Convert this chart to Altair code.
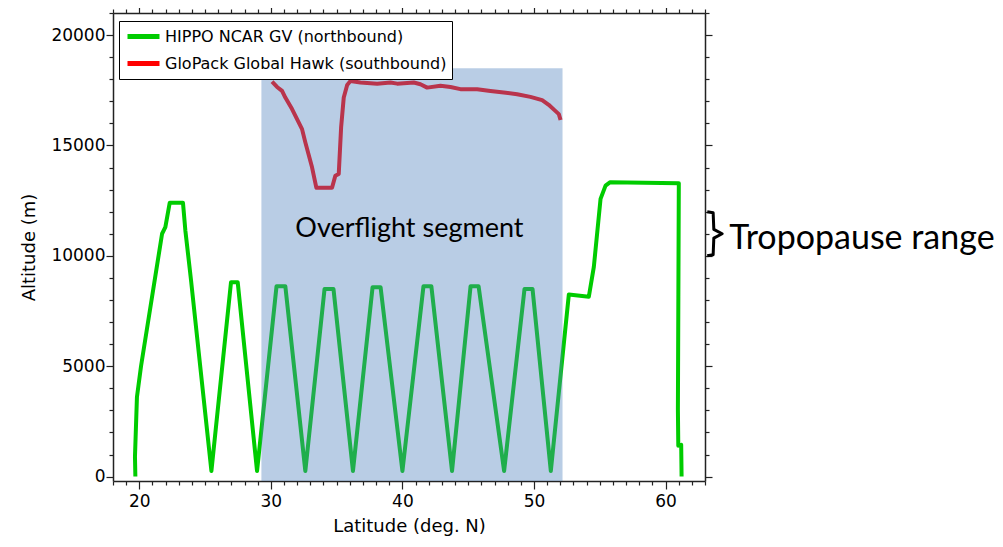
import altair as alt
import pandas as pd

# ---------------- data ----------------
series_names = ["HIPPO NCAR GV (northbound)", "GloPack Global Hawk (southbound)"]
series_colors = ["#00CC00", "#FF0000"]

hippo_lat = [19.70, 19.67, 19.82, 20.13, 21.73, 21.98, 22.31, 23.32, 23.50, 23.93,
             25.48, 26.97, 27.48, 28.95, 30.43, 31.10, 32.62, 34.08, 34.76, 36.24,
             37.73, 38.34, 40.00, 41.60, 42.20, 43.77, 45.18, 45.79, 47.73, 49.28,
             49.89, 51.28, 52.65, 54.17, 54.55, 55.06, 55.44, 55.77, 61.01, 60.94,
             60.97, 61.19, 61.22]
hippo_alt = [0, 900, 3600, 5000, 11000, 11300, 12400, 12400, 11150, 8900,
             250, 8800, 8800, 250, 8620, 8620, 250, 8500, 8500, 250,
             8580, 8580, 250, 8620, 8620, 250, 8620, 8620, 250, 8500,
             8500, 250, 8250, 8150, 9500, 12580, 13180, 13330, 13290, 3030,
             1400, 1440, 0]

glopack_lat = [30.09, 30.47, 30.85, 31.10, 31.61, 32.37, 32.62, 33.13, 33.46, 34.65,
               34.90, 35.16, 35.34, 35.54, 35.80, 36.05, 36.81, 38.08, 39.09, 39.60,
               40.86, 41.37, 41.88, 42.89, 43.65, 44.41, 45.68, 46.69, 47.70, 48.72,
               49.73, 50.62, 51.12, 51.56, 51.89, 52.02]
glopack_alt = [17890, 17650, 17470, 17170, 16650, 15740, 15140, 14010, 13080, 13080,
               13630, 13710, 15820, 17170, 17740, 17920, 17850, 17800, 17850, 17800,
               17850, 17770, 17620, 17700, 17650, 17550, 17550, 17470, 17400, 17320,
               17200, 17050, 16840, 16600, 16420, 16150]

overflight_lat = [29.28, 52.17]
overflight_alt = [-200, 18500]
overflight_label = "Overflight segment"
overflight_label_pos = [40.53, 10860]

bracket_lat = [63.17, 63.62, 63.67, 64.30, 63.67, 63.62, 63.17]
bracket_alt = [12000, 11950, 11200, 11000, 10800, 10050, 10000]
tropo_label = "Tropopause range"
tropo_label_pos = [64.85, 10330]

x_ticks = list(range(18, 64))
y_ticks = list(range(0, 21001, 1000))

# ---------------- tables ----------------
rows = []
for i, (la, al) in enumerate(zip(hippo_lat, hippo_alt)):
    rows.append({"series": series_names[0], "lat": la, "alt": al, "idx": i})
for i, (la, al) in enumerate(zip(glopack_lat, glopack_alt)):
    rows.append({"series": series_names[1], "lat": la, "alt": al, "idx": i})
lines_df = pd.DataFrame(rows)

rect_df = pd.DataFrame({"lat": [overflight_lat[0]], "lat2": [overflight_lat[1]],
                        "alt": [overflight_alt[0]], "alt2": [overflight_alt[1]]})
ovl_df = pd.DataFrame({"lat": [overflight_label_pos[0]], "alt": [overflight_label_pos[1]],
                       "t": [overflight_label]})
br_df = pd.DataFrame({"lat": bracket_lat, "alt": bracket_alt, "idx": list(range(len(bracket_lat)))})
tro_df = pd.DataFrame({"lat": [tropo_label_pos[0]], "alt": [tropo_label_pos[1]], "t": [tropo_label]})

xscale = alt.Scale(domain=[18, 63], nice=False, zero=False)
yscale = alt.Scale(domain=[-200, 21000], nice=False, zero=False)

AXC = "#222222"
FONT = "DejaVu Sans"

x_tick_size = {"condition": {"test": "datum.value % 10 === 0", "value": 8}, "value": 4}
y_tick_size = {"condition": {"test": "datum.value % 5000 === 0", "value": 7}, "value": 4}

x_bottom = alt.Axis(orient="bottom", values=x_ticks, format="d",
                    labelExpr="datum.value % 10 === 0 ? datum.label : ''",
                    tickSize=x_tick_size, grid=False, labelOverlap=False, labelFlush=False,
                    labelFont=FONT, labelFontSize=17, labelColor="black", labelPadding=4,
                    title="Latitude (deg. N)", titleFont=FONT, titleFontSize=18,
                    titleFontWeight="normal", titleColor="black", titlePadding=8,
                    domainColor=AXC, tickColor=AXC, domainWidth=1.5, tickWidth=1.2)
y_left = alt.Axis(orient="left", values=y_ticks, format="d",
                  labelExpr="datum.value % 5000 === 0 ? datum.label : ''",
                  tickSize=y_tick_size, grid=False, labelOverlap=False, labelFlush=False,
                  labelFont=FONT, labelFontSize=17, labelColor="black", labelPadding=1,
                  title="Altitude (m)", titleFont=FONT, titleFontSize=18,
                  titleFontWeight="normal", titleColor="black", titlePadding=12,
                  domainColor=AXC, tickColor=AXC, domainWidth=1.5, tickWidth=1.2)
x_top = alt.Axis(orient="top", values=x_ticks, labels=False, tickSize=x_tick_size,
                 grid=False, title=None, domainColor=AXC, tickColor=AXC,
                 domainWidth=1.5, tickWidth=1.2)
y_right = alt.Axis(orient="right", values=y_ticks, labels=False, tickSize=y_tick_size,
                   grid=False, title=None, domainColor=AXC, tickColor=AXC,
                   domainWidth=1.5, tickWidth=1.2)

lines = alt.Chart(lines_df).mark_line(strokeWidth=4, strokeJoin="round").encode(
    x=alt.X("lat:Q", scale=xscale, axis=x_bottom),
    y=alt.Y("alt:Q", scale=yscale, axis=y_left),
    color=alt.Color("series:N",
                    scale=alt.Scale(domain=series_names, range=series_colors),
                    sort=series_names,
                    legend=alt.Legend(orient="none", legendX=6, legendY=8, title=None,
                                      strokeColor="black", fillColor="white", padding=5,
                                      symbolType="M-2,0L2,0", symbolStrokeWidth=5,
                                      symbolSize=256, symbolOffset=9,
                                      labelFont=FONT, labelFontSize=16,
                                      labelColor="black", labelOffset=11, rowPadding=6,
                                      labelLimit=500, cornerRadius=0)),
    order="idx:Q",
)

rect = alt.Chart(rect_df).mark_rect(color="#4F81BD", opacity=0.4).encode(
    x=alt.X("lat:Q", scale=xscale, axis=x_top),
    x2="lat2:Q",
    y=alt.Y("alt:Q", scale=yscale, axis=y_right),
    y2="alt2:Q",
)

ovl_text = alt.Chart(ovl_df).mark_text(font="Lato", fontSize=27, color="black",
                                        align="center", baseline="alphabetic").encode(
    x=alt.X("lat:Q", axis=None), y=alt.Y("alt:Q", axis=None), text="t:N")

bracket = alt.Chart(br_df).mark_line(color="black", strokeWidth=3, strokeJoin="round").encode(
    x=alt.X("lat:Q", axis=None), y=alt.Y("alt:Q", axis=None), order="idx:Q")

tro_text = alt.Chart(tro_df).mark_text(font="Lato", fontSize=34, color="black",
                                        align="left", baseline="alphabetic").encode(
    x=alt.X("lat:Q", axis=None), y=alt.Y("alt:Q", axis=None), text="t:N")

chart = alt.layer(lines, rect, ovl_text, bracket, tro_text).resolve_axis(
    x="independent", y="independent"
).properties(
    width=592, height=468,
    autosize=alt.AutoSizeParams(type="none"),
    padding={"left": 105, "top": 5, "right": 290, "bottom": 58},
).configure_view(stroke=None)

chart.save("out.html", embed_options={"renderer": "svg", "actions": False})
